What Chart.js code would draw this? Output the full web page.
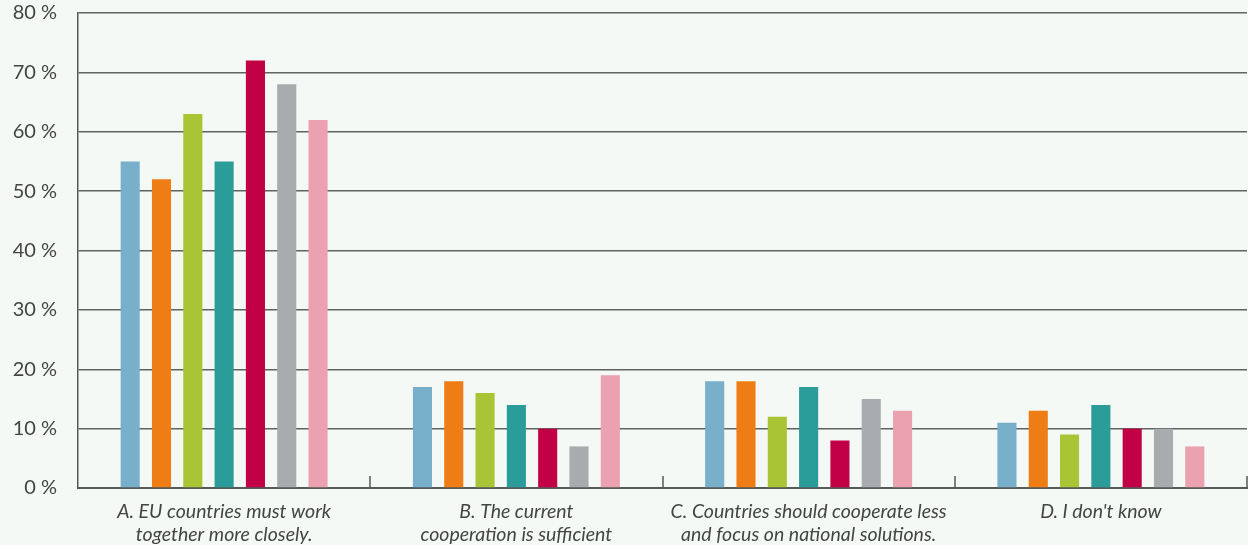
<!DOCTYPE html>
<html>
<head>
<meta charset="utf-8">
<script src="https://cdn.jsdelivr.net/npm/chart.js@4"></script>
<style>
  html, body { margin: 0; padding: 0; background: #f4f9f5; }
  #wrap { width: 1248px; height: 545px; position: relative; }
</style>
</head>
<body>
<div id="wrap"><canvas id="chart"></canvas></div>
<script>
// --- Data ---
const categories = [
  ['A. EU countries must work', 'together more closely.'],
  ['B. The current', 'cooperation is sufficient'],
  ['C. Countries should cooperate less', 'and focus on national solutions.'],
  ['D. I don\'t know']
];
const group1 = [55, 17, 18, 11];
const group2 = [52, 18, 18, 13];
const group3 = [63, 16, 12, 9];
const group4 = [55, 14, 17, 14];
const group5 = [72, 10, 8, 10];
const group6 = [68, 7, 15, 10];
const group7 = [62, 19, 13, 7];
const yTicks = [0, 10, 20, 30, 40, 50, 60, 70, 80];

const colors = ['#78afca', '#ef7d15', '#a9c435', '#2a9c99', '#c20045', '#a9acaf', '#eba1b0'];
const series = [group1, group2, group3, group4, group5, group6, group7];

// small upward ticks on the x axis between categories
const boundaryTicks = {
  id: 'boundaryTicks',
  afterDraw(chart) {
    const { ctx, scales: { x } } = chart;
    const half = (x.getPixelForValue(1) - x.getPixelForValue(0)) / 2;
    ctx.save();
    ctx.strokeStyle = '#555a57';
    ctx.lineWidth = 1.5;
    for (let i = 0; i < categories.length; i++) {
      const px = Math.round(x.getPixelForValue(i) + half);
      ctx.beginPath();
      ctx.moveTo(px, x.top);
      ctx.lineTo(px, x.top - 12);
      ctx.stroke();
    }
    ctx.restore();
  }
};

new Chart(document.getElementById('chart'), {
  type: 'bar',
  data: {
    labels: categories,
    datasets: series.map((d, i) => ({
      data: d,
      backgroundColor: colors[i],
      categoryPercentage: 0.75,
      barPercentage: 0.61
    }))
  },
  options: {
    responsive: true,
    maintainAspectRatio: false,
    animation: false,
    layout: { padding: { top: 13, right: 1, left: 0, bottom: 0 } },
    plugins: { legend: { display: false }, tooltip: { enabled: false } },
    scales: {
      x: {
        grid: { display: false },
        border: { display: true, color: '#555a57', width: 2 },
        ticks: {
          color: '#444',
          padding: 4,
          maxRotation: 0,
          autoSkip: false,
          font: { family: 'Lato', style: 'italic', size: 19.5, lineHeight: 1.18 }
        },
        afterFit(s) { s.height = 57; s.paddingLeft = 0; s.paddingRight = 0; }
      },
      y: {
        min: 0,
        max: 80,
        afterBuildTicks(s) { s.ticks = yTicks.map(v => ({ value: v })); },
        grid: { color: '#5f6461', lineWidth: 1.5, drawTicks: false },
        border: { display: true, color: '#555a57', width: 1.5 },
        ticks: {
          color: '#444',
          padding: 21,
          font: { family: 'Lato', size: 20 },
          callback: v => v + ' %'
        },
        afterFit(s) { s.width = 78; s.paddingTop = 0; s.paddingBottom = 0; }
      }
    }
  },
  plugins: [boundaryTicks]
});
</script>
</body>
</html>
